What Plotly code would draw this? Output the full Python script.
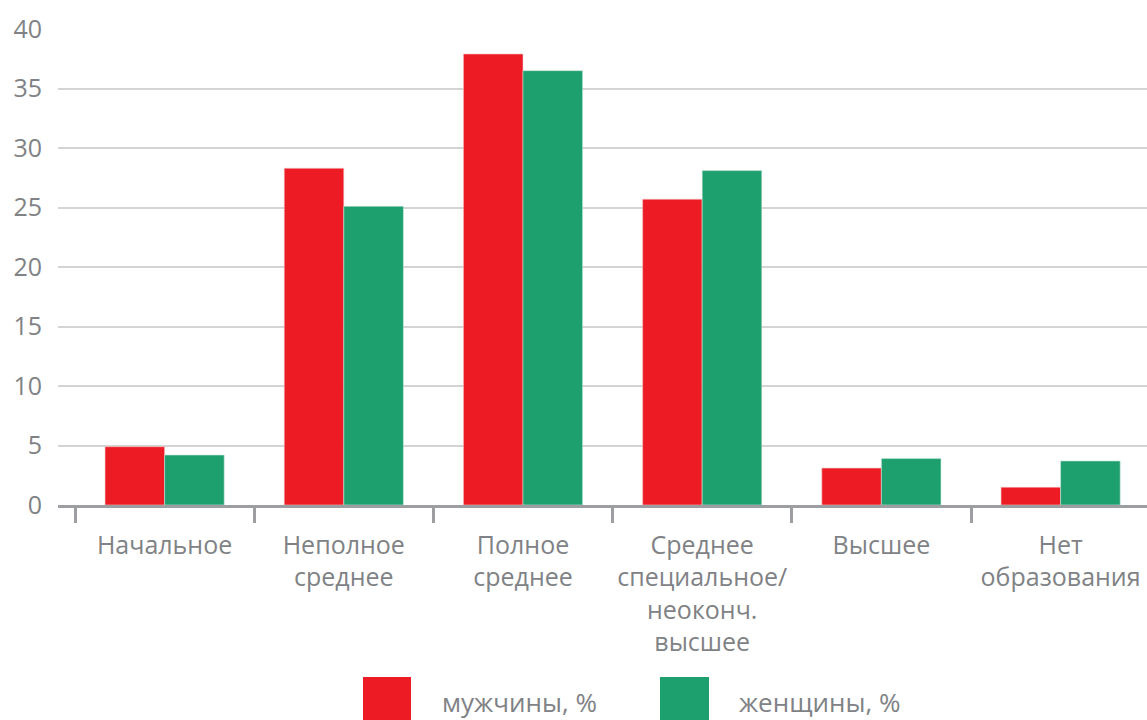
import plotly.graph_objects as go

categories = ["Начальное", "Неполное<br>среднее", "Полное<br>среднее",
              "Среднее<br>специальное/<br>неоконч.<br>высшее", "Высшее",
              "Нет<br>образования"]
series_names = ["мужчины, %", "женщины, %"]
men = [4.9, 28.3, 37.9, 25.7, 3.1, 1.5]
women = [4.2, 25.1, 36.5, 28.1, 3.9, 3.7]
y_ticks = [0, 5, 10, 15, 20, 25, 30, 35, 40]

RED = "#ED1C24"
GREEN = "#1E9F6E"
GRAY = "#808285"
FONT = "Open Sans"

fig = go.Figure()
fig.add_trace(go.Bar(x=categories, y=men, name=series_names[0],
                     marker=dict(color=RED, line=dict(color="#f4c9c9", width=0.6))))
fig.add_trace(go.Bar(x=categories, y=women, name=series_names[1],
                     marker=dict(color=GREEN, line=dict(color="#c8e6da", width=0.6))))

W, H = 1147, 720
L, T, B = 58, 29, 215
plot_w = W - L
plot_h = H - T - B
cat_w = 179.2
left_pad = (75 - L) / cat_w
x_range = [-0.5 - left_pad, -0.5 + (W - 75) / cat_w]

fig.update_layout(
    width=W, height=H,
    margin=dict(l=L, r=0, t=T, b=B, pad=0, autoexpand=False),
    paper_bgcolor="white", plot_bgcolor="white",
    barmode="group", bargap=0.335, bargroupgap=0,
    showlegend=False,
    font=dict(family=FONT, color=GRAY, size=25),
    xaxis=dict(
        range=x_range, type="category", automargin=False, tickangle=0,
        showline=True, linecolor="#9c9ea1", linewidth=2.5,
        ticks="outside", tickson="boundaries", ticklen=15, tickwidth=2.5,
        tickcolor="#9c9ea1", showgrid=False,
        tickfont=dict(family=FONT, color=GRAY, size=25),
        ticklabelstandoff=16,
    ),
    yaxis=dict(
        range=[0, 40], tickvals=y_ticks, ticktext=[str(v) for v in y_ticks],
        automargin=False,
        showgrid=True, gridcolor="#d4d4d4", gridwidth=1.5,
        zeroline=False, showline=False, ticks="",
        tickfont=dict(family=FONT, color=GRAY, size=25),
        ticklabelstandoff=15,
    ),
)

def px_x(p):
    return (p - L) / plot_w

def px_y(p):
    return (H - B - p) / plot_h

legend_items = [(series_names[0], RED, 363, 411, 440), (series_names[1], GREEN, 660, 709, 737)]
for name, col, x0, x1, tx in legend_items:
    fig.add_shape(type="rect", xref="paper", yref="paper",
                  x0=px_x(x0), x1=px_x(x1), y0=px_y(722), y1=px_y(677),
                  fillcolor=col, line=dict(width=0))
    fig.add_annotation(text=name, xref="paper", yref="paper",
                       x=px_x(tx), y=px_y(702), xanchor="left", yanchor="middle",
                       showarrow=False, font=dict(family=FONT, color=GRAY, size=26))

fig.write_html("out.html", config={"displayModeBar": False},
               post_script="document.body.style.margin='0';document.body.style.overflow='hidden';")
